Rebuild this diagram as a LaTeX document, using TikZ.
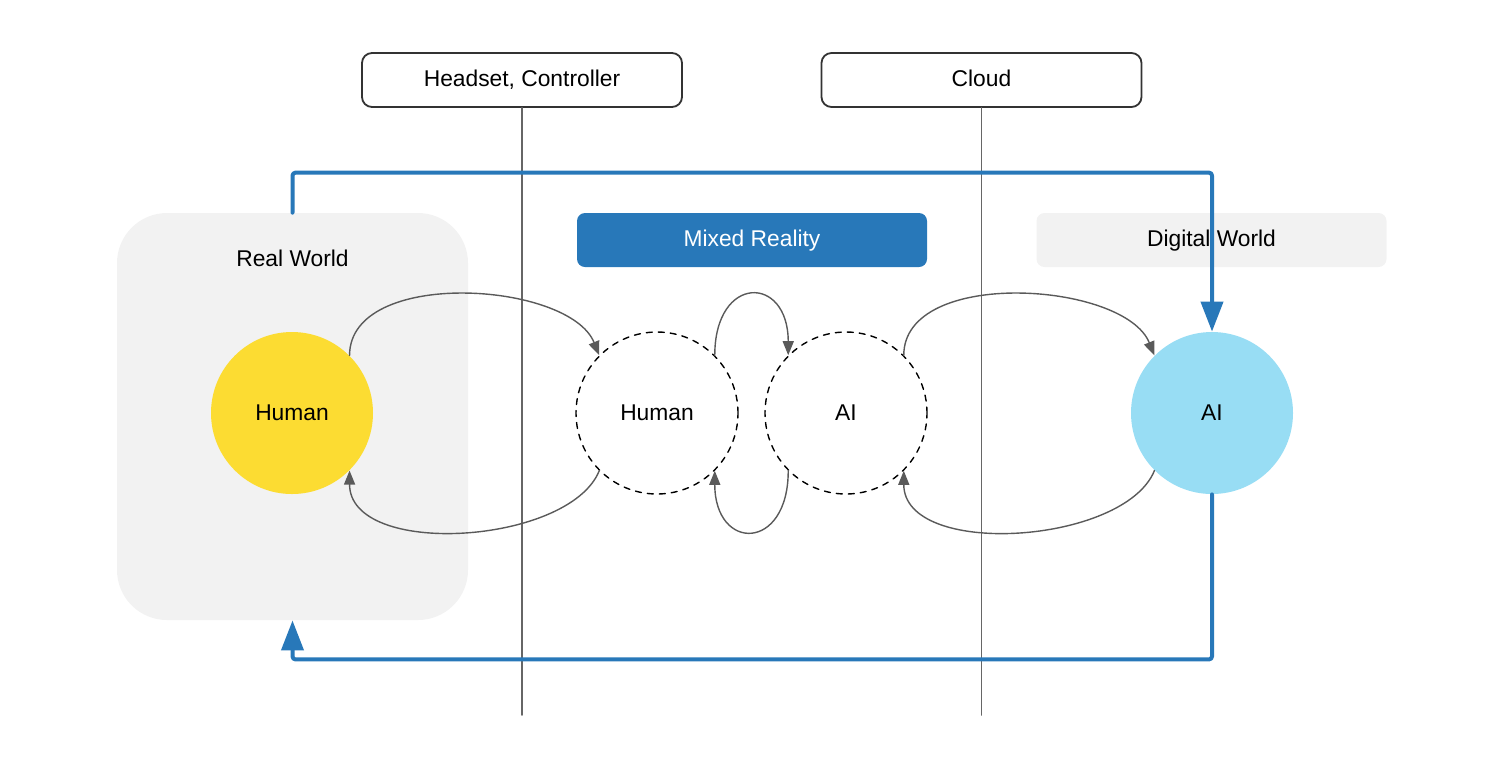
\documentclass[tikz,border=0pt]{standalone}
\usepackage{fontspec}
\setmainfont{Liberation Sans}
\usetikzlibrary{arrows.meta}
\usetikzlibrary{positioning}

\definecolor{mrblue}{HTML}{2878B9}
\definecolor{hyellow}{HTML}{FCDC32}
\definecolor{aiblue}{HTML}{98DDF4}
\definecolor{worldgray}{HTML}{F2F2F2}
\definecolor{curvegray}{HTML}{5A5A5A}
\definecolor{linegray}{HTML}{666666}

\tikzset{
  devbox/.style={draw=black!80,line width=0.9pt,rounded corners=5pt,fill=white,
    minimum width=160pt,minimum height=27pt,text height=8.5pt,text depth=2pt,
    font=\fontsize{11.4}{13}\selectfont},
  labelbox/.style={rounded corners=4pt,minimum width=175pt,minimum height=27pt,
    text height=8.5pt,text depth=2pt,font=\fontsize{11.4}{13}\selectfont},
  agent/.style={circle,minimum size=81pt,inner sep=0pt,font=\fontsize{11.4}{13}\selectfont},
  flow/.style={curvegray,line width=0.7pt,-{Triangle[length=7pt,width=5.5pt]}},
  loopback/.style={mrblue,line width=2pt,rounded corners=1.5pt,-{Triangle[length=15pt,width=11pt]}}
}

\begin{document}
\begin{tikzpicture}[line cap=round,line join=round,x=0.5pt,y=-0.5pt]
\useasboundingbox (0,0) rectangle (1504,768);
% backgrounds
\node[fill=worldgray,rounded corners=25pt,minimum width=175.5pt,minimum height=203.5pt,inner sep=0pt] (rw) at (292.5,416.5) {};
\node[font=\fontsize{11.4}{13}\selectfont,text height=8.5pt,text depth=2pt] (rwlabel) at (292.5,260) {Real World};
\node[labelbox,fill=mrblue,text=white] (mr) at (752,240) {Mixed Reality};
\node[labelbox,fill=worldgray] (dw) at (1211.5,240) {Digital World};
% devices and layers
\node[devbox] (dev) at (522,80) {Headset, Controller};
\node[devbox] (cloud) at (981.5,80) {Cloud};
\coordinate (devend) at (522,715);
\coordinate (cloudend) at (981.5,715);
\draw[linegray,line width=0.9pt] (dev.south) -- (devend);
\draw[linegray,line width=0.9pt] (cloud.south) -- (cloudend);
% agents
\node[agent,fill=hyellow] (hum) at (292,413) {Human};
\node[agent,draw=black,dashed,line width=0.7pt] (dhum) at (657,413) {Human};
\node[agent,draw=black,dashed,line width=0.7pt] (dai) at (846,413) {AI};
\node[agent,fill=aiblue] (ai) at (1212,413) {AI};
% exchanges
\draw[flow] (hum.45) .. controls +(0,-88) and +(-30,-74) .. (dhum.135);
\draw[flow] (dhum.225) .. controls +(-30,74) and +(0,88) .. (hum.-45);
\draw[flow] (dhum.45) .. controls +(0,-81) and +(0,-81) .. (dai.135);
\draw[flow] (dai.225) .. controls +(0,81) and +(0,81) .. (dhum.-45);
\draw[flow] (dai.45) .. controls +(0,-88) and +(-30,-74) .. (ai.135);
\draw[flow] (ai.225) .. controls +(-30,74) and +(0,88) .. (dai.-45);
% outer loop
\draw[loopback] (rw.north) -- ++(0,-40) -| (ai.north);
\draw[loopback] (ai.south) -- ++(0,165) -| (rw.south);
\end{tikzpicture}
\end{document}
